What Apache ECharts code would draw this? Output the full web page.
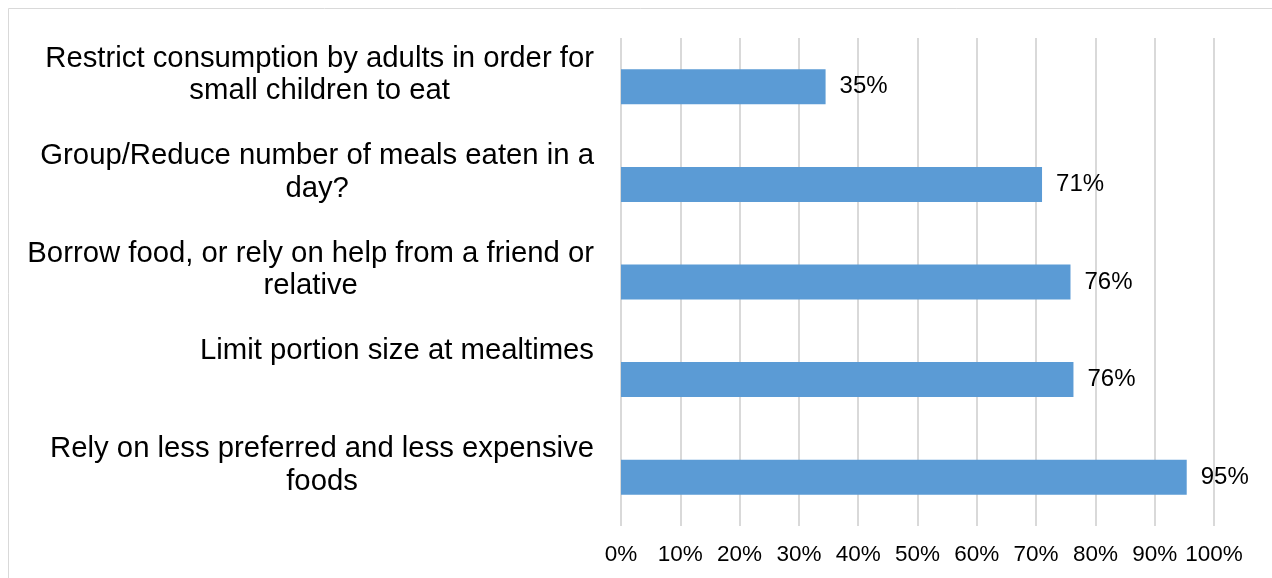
<!DOCTYPE html>
<html>
<head>
<meta charset="utf-8">
<script src="https://cdn.jsdelivr.net/npm/echarts@6/dist/echarts.min.js"></script>
<style>
html,body{margin:0;padding:0;background:#fff;}
#chart{width:1272px;height:578px;}
</style>
</head>
<body>
<div id="chart"></div>
<script>
const categories = [
  "Restrict consumption by adults in order for\nsmall children to eat",
  "Group/Reduce number of meals eaten in a\nday?",
  "Borrow food, or rely on help from a friend or\nrelative",
  "Limit portion size at mealtimes",
  "Rely on less preferred and less expensive\nfoods"
];
const values = [34.5, 71.0, 75.8, 76.3, 95.4];
const xTicks = { min: 0, max: 100, interval: 10 };

const FONT = "'Liberation Sans', Arial, sans-serif";
const LINE_H = 32.5;

const yData = categories.map(function (c) {
  const n = c.split('\n').length;
  return { value: c, textStyle: { padding: [0, 0, Math.max(0, 89 - n * LINE_H), 0] } };
});

const chart = echarts.init(document.getElementById('chart'), null, { renderer: 'canvas' });
chart.setOption({
  backgroundColor: '#ffffff',
  animation: false,
  graphic: [{
    type: 'rect',
    shape: { x: 8.5, y: 8.5, width: 1290, height: 600 },
    style: { fill: 'none', stroke: '#d9d9d9', lineWidth: 1 },
    silent: true
  }],
  grid: { left: 621, right: 58, top: 38, bottom: 52, containLabel: false },
  xAxis: {
    type: 'value',
    min: xTicks.min, max: xTicks.max, interval: xTicks.interval,
    axisLine: { show: false },
    axisTick: { show: false },
    splitLine: { show: true, lineStyle: { color: '#d9d9d9', width: 2 } },
    axisLabel: {
      formatter: '{value}%',
      color: '#000', fontSize: 22.5, fontFamily: FONT, margin: 17
    }
  },
  yAxis: {
    type: 'category',
    inverse: true,
    data: yData,
    axisLine: { show: false },
    axisTick: { show: false },
    splitLine: { show: false },
    axisLabel: {
      interval: 0,
      margin: 27,
      align: 'right',
      verticalAlign: 'middle',
      formatter: function (v) {
        return v.split('\n').map(function (l) { return '{c|' + l + '}'; }).join('\n');
      },
      rich: {
        c: { align: 'center', fontSize: 29.3, lineHeight: LINE_H, color: '#000', fontFamily: FONT }
      }
    }
  },
  series: [{
    type: 'bar',
    data: values,
    barWidth: 35,
    itemStyle: { color: '#5b9bd5' },
    label: {
      show: true,
      position: 'right',
      distance: 14,
      color: '#000',
      fontSize: 24,
      fontFamily: FONT,
      formatter: function (p) { return Math.round(p.value) + '%'; }
    }
  }]
});
</script>
</body>
</html>
